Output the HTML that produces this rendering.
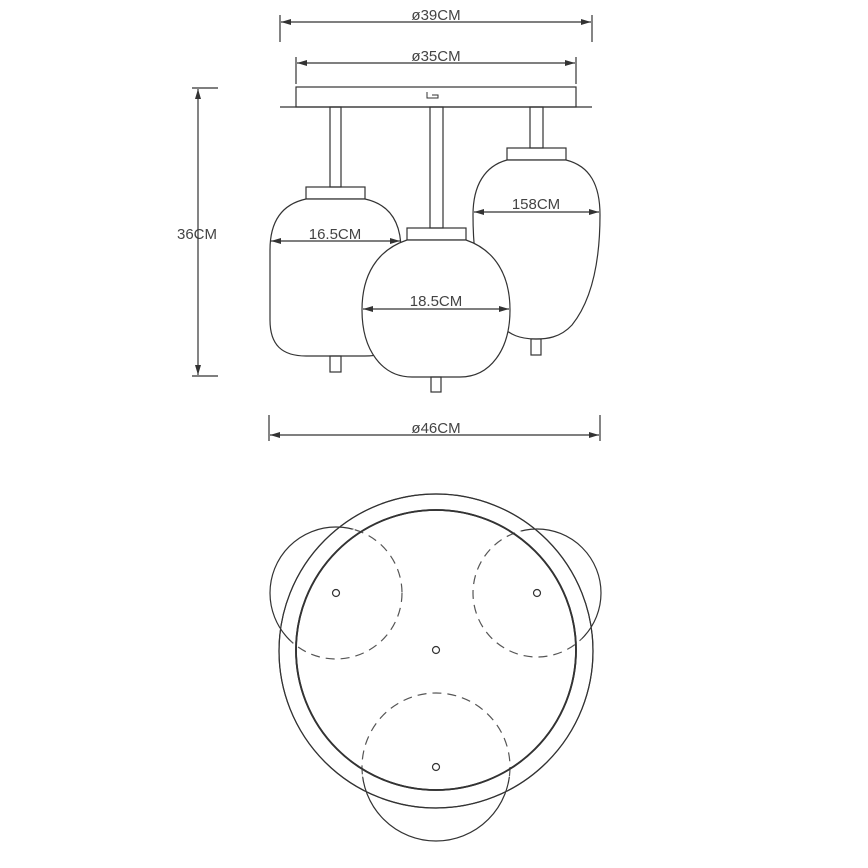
<!DOCTYPE html>
<html><head><style>html,body{margin:0;padding:0;background:#fff}svg{display:block}</style></head><body>
<svg width="868" height="868" viewBox="0 0 868 868" xmlns="http://www.w3.org/2000/svg" font-family="Liberation Sans, sans-serif" font-size="15" fill="none" stroke="#333" stroke-width="1.2">
<defs>
<marker id="a" viewBox="0 0 10 6" refX="10" refY="3" markerWidth="10" markerHeight="6" orient="auto-start-reverse" markerUnits="userSpaceOnUse"><path d="M0,0 L10,3 L0,6z" fill="#333" stroke="none"/></marker>
<mask id="out"><rect width="868" height="868" fill="#fff"/><circle cx="436" cy="650" r="146" fill="#000"/></mask>
</defs>
<line x1="280" y1="15" x2="280" y2="42"/><line x1="592" y1="15" x2="592" y2="42"/>
<line x1="281" y1="22" x2="591" y2="22" marker-start="url(#a)" marker-end="url(#a)"/>
<line x1="296" y1="57" x2="296" y2="84"/><line x1="576" y1="57" x2="576" y2="84"/>
<line x1="297" y1="63" x2="575" y2="63" marker-start="url(#a)" marker-end="url(#a)"/>
<g fill="#444" stroke="none" text-anchor="middle">
<text x="436" y="20">ø39CM</text><text x="436" y="61">ø35CM</text>
<text x="436" y="433">ø46CM</text>
<text x="197" y="239">36CM</text>
</g>
<rect x="296" y="87" width="280" height="20"/>
<line x1="280" y1="107" x2="592" y2="107"/>
<path d="M427,92 V98 H438 V95 H432" stroke-width="1"/>
<line x1="192" y1="88" x2="218" y2="88"/><line x1="192" y1="376" x2="218" y2="376"/>
<line x1="198" y1="89" x2="198" y2="375" marker-start="url(#a)" marker-end="url(#a)"/>
<line x1="269" y1="415" x2="269" y2="441"/><line x1="600" y1="415" x2="600" y2="441"/>
<line x1="270" y1="435" x2="599" y2="435" marker-start="url(#a)" marker-end="url(#a)"/>
<rect x="330" y="107" width="11" height="80"/>
<rect x="306" y="187" width="59" height="12"/>
<path d="M306,199 H365 C388,204 401,220 401,250 V320 C401,345 390,356 365,356 H306 C282,356 270,345 270,320 V250 C270,220 283,204 306,199Z" fill="#fff"/>
<rect x="330" y="356" width="11" height="16"/>
<rect x="530" y="107" width="13" height="41"/>
<rect x="507" y="148" width="59" height="12"/>
<path d="M507,160 H566 C590,166 600,185 600,215 C600,260 592,300 572,325 C560,338 546,339 536,339 C520,339 510,335 500,325 C480,300 473,260 473,215 C473,185 485,166 507,160Z" fill="#fff"/>
<rect x="531" y="339" width="10" height="16"/>
<line x1="474" y1="212" x2="599" y2="212" marker-start="url(#a)" marker-end="url(#a)"/>
<text x="536" y="209" fill="#444" stroke="none" text-anchor="middle">158CM</text>
<line x1="271" y1="241" x2="400" y2="241" marker-start="url(#a)" marker-end="url(#a)"/>
<text x="335" y="239" fill="#444" stroke="none" text-anchor="middle">16.5CM</text>
<rect x="430" y="107" width="13" height="121"/>
<rect x="407" y="228" width="59" height="12"/>
<path d="M407,240 H466 C495,250 510,275 510,310 C510,350 490,377 460,377 H412 C382,377 362,350 362,310 C362,275 377,250 407,240Z" fill="#fff"/>
<rect x="431" y="377" width="10" height="15"/>
<line x1="363" y1="309" x2="509" y2="309" marker-start="url(#a)" marker-end="url(#a)"/>
<text x="436" y="306" fill="#444" stroke="none" text-anchor="middle">18.5CM</text>
<circle cx="436" cy="651" r="157"/>
<circle cx="436" cy="650" r="140" stroke-width="1.8"/>
<g stroke-dasharray="9,6" stroke="#555">
<circle cx="336" cy="593" r="66"/><circle cx="537" cy="593" r="64"/><circle cx="436" cy="767" r="74"/>
</g>
<g mask="url(#out)">
<circle cx="336" cy="593" r="66" stroke="#fff" stroke-width="2.5"/><circle cx="537" cy="593" r="64" stroke="#fff" stroke-width="2.5"/><circle cx="436" cy="767" r="74" stroke="#fff" stroke-width="2.5"/>
<circle cx="336" cy="593" r="66"/><circle cx="537" cy="593" r="64"/><circle cx="436" cy="767" r="74"/>
</g>
<circle cx="436" cy="651" r="157"/>
<circle cx="436" cy="650" r="140" stroke-width="1.8"/>
<circle cx="336" cy="593" r="3.5"/><circle cx="537" cy="593" r="3.5"/><circle cx="436" cy="650" r="3.5"/><circle cx="436" cy="767" r="3.5"/>
</svg>
</body></html>
